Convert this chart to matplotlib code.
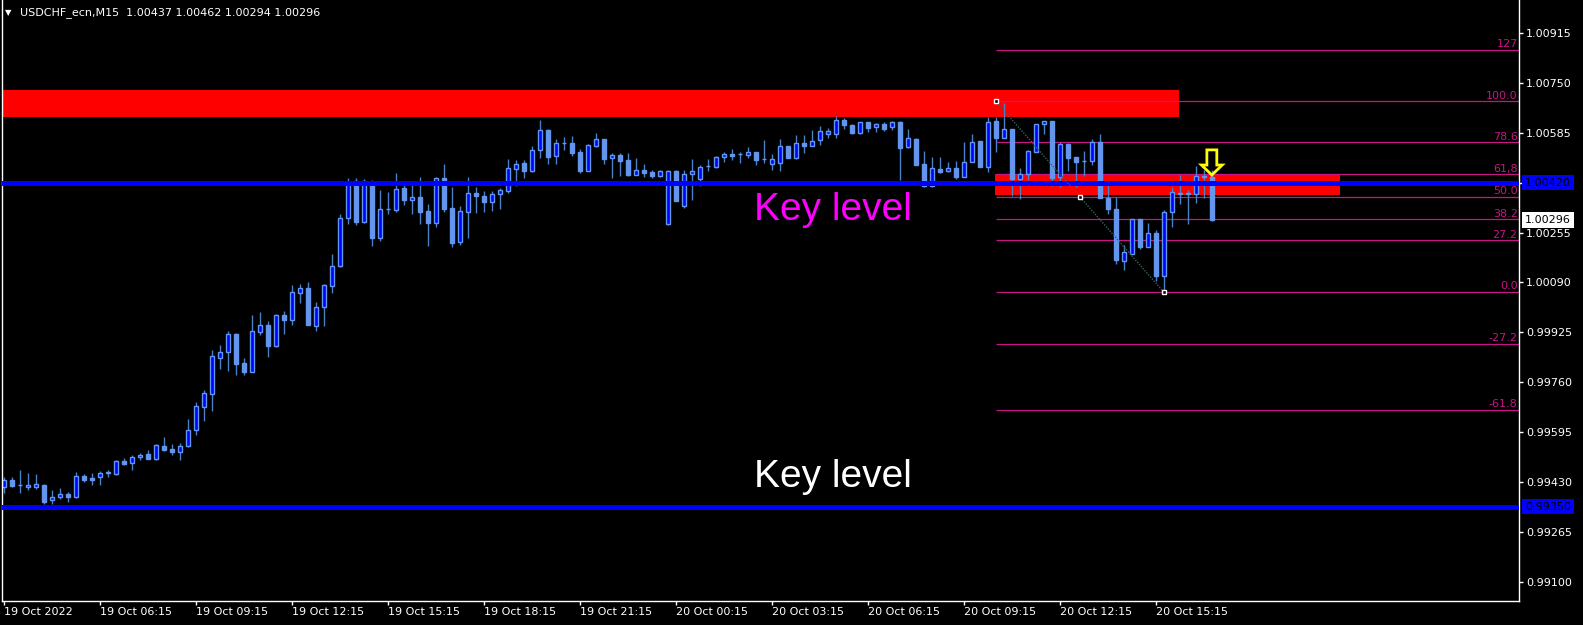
import numpy as np
import matplotlib
import matplotlib.pyplot as plt
from matplotlib.patches import Rectangle, Polygon

matplotlib.use("Agg")

# USDCHF M15 candles, bar 0 = 19 Oct 03:15
opens = [
    0.99413, 0.99438, 0.99421, 0.99416, 0.99416, 0.99421, 0.99371, 0.99381, 0.99392, 0.99381,
    0.99451, 0.99445, 0.99447, 0.99462, 0.99457, 0.99501, 0.99495, 0.99513, 0.99525, 0.99508,
    0.99550, 0.99540, 0.99529, 0.99549, 0.99602, 0.99680, 0.99723, 0.99842, 0.99859, 0.99920,
    0.99823, 0.99795, 0.99927, 0.99949, 0.99880, 0.99982, 0.99967, 1.00056, 1.00071, 0.99947,
    1.00010, 1.00079, 1.00145, 1.00302, 1.00425, 1.00291, 1.00419, 1.00238, 1.00332, 1.00330,
    1.00402, 1.00364, 1.00373, 1.00327, 1.00288, 1.00434, 1.00336, 1.00225, 1.00324, 1.00386,
    1.00376, 1.00357, 1.00381, 1.00393, 1.00466, 1.00485, 1.00459, 1.00529, 1.00594, 1.00509,
    1.00550, 1.00551, 1.00521, 1.00459, 1.00542, 1.00564, 1.00502, 1.00511, 1.00495, 1.00446,
    1.00462, 1.00455, 1.00443, 1.00284, 1.00458, 1.00344, 1.00447, 1.00433, 1.00474, 1.00473,
    1.00504, 1.00515, 1.00514, 1.00510, 1.00521, 1.00497, 1.00482, 1.00484, 1.00541, 1.00502,
    1.00551, 1.00542, 1.00560, 1.00582, 1.00582, 1.00626, 1.00610, 1.00585, 1.00619, 1.00603,
    1.00614, 1.00603, 1.00620, 1.00539, 1.00564, 1.00481, 1.00409, 1.00465, 1.00457, 1.00468,
    1.00439, 1.00489, 1.00557, 1.00473, 1.00623, 1.00568, 1.00597, 1.00431, 1.00448, 1.00522,
    1.00612, 1.00623, 1.00438, 1.00547, 1.00505, 1.00491, 1.00492, 1.00553, 1.00370, 1.00333,
    1.00162, 1.00185, 1.00299, 1.00208, 1.00254, 1.00113, 1.00324, 1.00383, 1.00384, 1.00383,
    1.00440, 1.00437,
]
highs = [
    0.99449, 0.99448, 0.99471, 0.99461, 0.99458, 0.99425, 0.99405, 0.99411, 0.99399, 0.99463,
    0.99457, 0.99461, 0.99468, 0.99471, 0.99503, 0.99511, 0.99520, 0.99527, 0.99537, 0.99557,
    0.99580, 0.99557, 0.99559, 0.99638, 0.99695, 0.99735, 0.99867, 0.99884, 0.99929, 0.99923,
    0.99839, 0.99983, 0.99992, 0.99962, 0.99986, 0.99995, 1.00081, 1.00085, 1.00092, 1.00024,
    1.00085, 1.00184, 1.00315, 1.00435, 1.00435, 1.00432, 1.00429, 1.00396, 1.00389, 1.00452,
    1.00413, 1.00413, 1.00438, 1.00349, 1.00437, 1.00481, 1.00405, 1.00342, 1.00438, 1.00405,
    1.00393, 1.00392, 1.00401, 1.00498, 1.00495, 1.00495, 1.00541, 1.00627, 1.00597, 1.00564,
    1.00571, 1.00574, 1.00531, 1.00546, 1.00584, 1.00564, 1.00518, 1.00518, 1.00518, 1.00501,
    1.00481, 1.00462, 1.00462, 1.00462, 1.00462, 1.00462, 1.00498, 1.00478, 1.00498, 1.00508,
    1.00521, 1.00531, 1.00522, 1.00537, 1.00521, 1.00560, 1.00514, 1.00564, 1.00542, 1.00577,
    1.00577, 1.00593, 1.00606, 1.00600, 1.00640, 1.00633, 1.00615, 1.00621, 1.00619, 1.00618,
    1.00620, 1.00623, 1.00623, 1.00596, 1.00567, 1.00524, 1.00505, 1.00505, 1.00488, 1.00491,
    1.00554, 1.00579, 1.00557, 1.00636, 1.00635, 1.00684, 1.00597, 1.00468, 1.00528, 1.00612,
    1.00622, 1.00623, 1.00553, 1.00552, 1.00505, 1.00524, 1.00564, 1.00581, 1.00412, 1.00371,
    1.00214, 1.00299, 1.00299, 1.00287, 1.00263, 1.00330, 1.00404, 1.00445, 1.00396, 1.00475,
    1.00462, 1.00462,
]
lows = [
    0.99396, 0.99413, 0.99396, 0.99403, 0.99407, 0.99358, 0.99358, 0.99375, 0.99366, 0.99379,
    0.99432, 0.99420, 0.99422, 0.99449, 0.99454, 0.99487, 0.99471, 0.99504, 0.99508, 0.99503,
    0.99535, 0.99520, 0.99504, 0.99548, 0.99587, 0.99634, 0.99667, 0.99804, 0.99799, 0.99785,
    0.99785, 0.99795, 0.99917, 0.99845, 0.99878, 0.99921, 0.99950, 1.00023, 0.99951, 0.99931,
    0.99947, 1.00056, 1.00140, 1.00283, 1.00281, 1.00287, 1.00211, 1.00228, 1.00317, 1.00324,
    1.00346, 1.00317, 1.00284, 1.00212, 1.00274, 1.00324, 1.00208, 1.00215, 1.00238, 1.00321,
    1.00324, 1.00327, 1.00333, 1.00387, 1.00409, 1.00435, 1.00455, 1.00502, 1.00482, 1.00482,
    1.00528, 1.00509, 1.00453, 1.00459, 1.00539, 1.00481, 1.00435, 1.00442, 1.00443, 1.00445,
    1.00438, 1.00436, 1.00439, 1.00280, 1.00359, 1.00336, 1.00363, 1.00409, 1.00458, 1.00469,
    1.00488, 1.00495, 1.00485, 1.00501, 1.00479, 1.00486, 1.00462, 1.00458, 1.00502, 1.00499,
    1.00518, 1.00542, 1.00543, 1.00566, 1.00568, 1.00597, 1.00582, 1.00580, 1.00587, 1.00588,
    1.00589, 1.00594, 1.00429, 1.00533, 1.00479, 1.00405, 1.00406, 1.00453, 1.00454, 1.00431,
    1.00439, 1.00487, 1.00473, 1.00456, 1.00522, 1.00567, 1.00376, 1.00365, 1.00429, 1.00520,
    1.00581, 1.00409, 1.00406, 1.00459, 1.00406, 1.00443, 1.00478, 1.00370, 1.00317, 1.00152,
    1.00131, 1.00184, 1.00202, 1.00208, 1.00096, 1.00058, 1.00272, 1.00350, 1.00284, 1.00354,
    1.00370, 1.00294,
]
closes = [
    0.99438, 0.99418, 0.99420, 0.99421, 0.99425, 0.99366, 0.99381, 0.99391, 0.99380, 0.99450,
    0.99436, 0.99439, 0.99461, 0.99463, 0.99500, 0.99492, 0.99514, 0.99520, 0.99508, 0.99553,
    0.99537, 0.99530, 0.99549, 0.99602, 0.99681, 0.99724, 0.99846, 0.99859, 0.99919, 0.99822,
    0.99795, 0.99929, 0.99949, 0.99881, 0.99982, 0.99967, 1.00059, 1.00071, 0.99951, 1.00008,
    1.00081, 1.00145, 1.00302, 1.00419, 1.00291, 1.00425, 1.00238, 1.00332, 1.00333, 1.00398,
    1.00364, 1.00372, 1.00323, 1.00288, 1.00434, 1.00333, 1.00221, 1.00325, 1.00385, 1.00377,
    1.00357, 1.00381, 1.00396, 1.00467, 1.00480, 1.00459, 1.00527, 1.00593, 1.00506, 1.00551,
    1.00551, 1.00519, 1.00458, 1.00543, 1.00564, 1.00498, 1.00510, 1.00491, 1.00445, 1.00461,
    1.00452, 1.00443, 1.00458, 1.00457, 1.00359, 1.00447, 1.00457, 1.00471, 1.00475, 1.00504,
    1.00513, 1.00509, 1.00515, 1.00520, 1.00496, 1.00498, 1.00497, 1.00540, 1.00502, 1.00550,
    1.00542, 1.00556, 1.00589, 1.00590, 1.00626, 1.00610, 1.00584, 1.00620, 1.00600, 1.00614,
    1.00597, 1.00619, 1.00535, 1.00566, 1.00479, 1.00409, 1.00467, 1.00455, 1.00467, 1.00438,
    1.00488, 1.00553, 1.00473, 1.00619, 1.00568, 1.00596, 1.00431, 1.00447, 1.00524, 1.00612,
    1.00622, 1.00436, 1.00547, 1.00502, 1.00489, 1.00492, 1.00553, 1.00370, 1.00332, 1.00164,
    1.00190, 1.00299, 1.00208, 1.00253, 1.00112, 1.00322, 1.00388, 1.00384, 1.00383, 1.00441,
    1.00441, 1.00296,
]

price_ticks = [1.00915, 1.00750, 1.00585, 1.00420, 1.00255, 1.00090, 0.99925,
               0.99760, 0.99595, 0.99430, 0.99265, 0.99100]
time_tick_bars = [0, 12, 24, 36, 48, 60, 72, 84, 96, 108, 120, 132, 144]
time_tick_labels = ["19 Oct 2022", "19 Oct 06:15", "19 Oct 09:15", "19 Oct 12:15",
                    "19 Oct 15:15", "19 Oct 18:15", "19 Oct 21:15", "20 Oct 00:15",
                    "20 Oct 03:15", "20 Oct 06:15", "20 Oct 09:15", "20 Oct 12:15",
                    "20 Oct 15:15"]

key_levels = [1.00420, 0.99350]
# supply zones: (first bar, last bar, low, high)
zones = [(-0.25, 146.9, 1.00636, 1.00725), (123.9, 167.0, 1.00378, 1.00448)]

fib_high, fib_low = 1.00688, 1.00058
fib_high_bar, fib_low_bar = 124, 145
fib_levels = [1.27, 1.0, 0.786, 0.618, 0.5, 0.382, 0.272, 0.0, -0.272, -0.618]
fib_labels = ["127", "100.0", "78.6", "61,8", "50.0", "38.2", "27.2", "0.0", "-27.2", "-61.8"]

arrow_bar, arrow_price = 151, 1.00445
last_price = 1.00296
title = "USDCHF_ecn,M15  1.00437 1.00462 1.00294 1.00296"

W, H = 1583, 625
fig = plt.figure(figsize=(W / 100, H / 100), dpi=100, facecolor="black")
ax = fig.add_axes([2 / W, 24 / H, 1517 / W, 601 / H])
ax.set_facecolor("black")
xmin, xmax = -0.25, 189.4
ax.set_xlim(xmin, xmax)
ax.set_ylim(0.99038, 1.01023)

# zones
for x0, x1, lo, hi in zones:
    ax.add_patch(Rectangle((x0, lo), x1 - x0, hi - lo, color="#ff0000", lw=0, zorder=1))

# fibonacci
fib_color = "#c71585"
for lv, lab in zip(fib_levels, fib_labels):
    p = fib_low + lv * (fib_high - fib_low)
    ax.hlines(p, fib_high_bar, xmax, color=fib_color, lw=0.9, zorder=1.5)
    ax.annotate(lab, (xmax, p), xytext=(-1, 0.5), textcoords="offset points",
                ha="right", va="bottom", color=fib_color, fontsize=8, zorder=1.6)

# candles
o, h, l, c = map(np.array, (opens, highs, lows, closes))
x = np.arange(len(o))
up = c >= o
bottom = np.minimum(o, c)
height = np.maximum(np.abs(c - o), 0.000005)
ax.vlines(x, l, h, color="#4a80c8", lw=1, zorder=2)
ax.bar(x[up], height[up], bottom=bottom[up], width=0.5, color="#0000ff",
       edgecolor="#6495ed", lw=1, zorder=2.2)
ax.bar(x[~up], height[~up], bottom=bottom[~up], width=0.5, color="#6495ed",
       edgecolor="#6495ed", lw=1, zorder=2.2)

# key level lines
for lvl in key_levels:
    ax.axhline(lvl, color="#0000ff", lw=3.6, zorder=3)
    ax.annotate(f"{lvl:.5f}", xy=(1, lvl), xycoords=("axes fraction", "data"),
                xytext=(4.5, 0), textcoords="offset points", ha="left", va="center",
                fontsize=8, color="black", annotation_clip=False, zorder=10,
                bbox=dict(boxstyle="square,pad=0.25", fc="#0000ff", ec="none"))

ax.annotate(f"{last_price:.5f}", xy=(1, last_price), xycoords=("axes fraction", "data"),
            xytext=(4.5, 0), textcoords="offset points", ha="left", va="center",
            fontsize=8, color="black", annotation_clip=False, zorder=10,
            bbox=dict(boxstyle="square,pad=0.25", fc="white", ec="none"))

# fib trend line
mid_bar = (fib_high_bar + fib_low_bar) / 2
ax.plot([fib_high_bar, fib_low_bar], [fib_high, fib_low], ls=(0, (1, 1)),
        color="#3b5f5f", lw=1, zorder=3.5)
ax.plot([fib_high_bar, mid_bar, fib_low_bar], [fib_high, (fib_high + fib_low) / 2, fib_low],
        "s", ms=3.5, mfc="black", mec="white", mew=1, zorder=3.6)

# sell arrow
head_w, shaft_w = 1.3, 0.62
head_h, total_h = 0.00033, 0.00083
arrow = Polygon([
    (arrow_bar, arrow_price),
    (arrow_bar - head_w, arrow_price + head_h),
    (arrow_bar - shaft_w, arrow_price + head_h),
    (arrow_bar - shaft_w, arrow_price + total_h),
    (arrow_bar + shaft_w, arrow_price + total_h),
    (arrow_bar + shaft_w, arrow_price + head_h),
    (arrow_bar + head_w, arrow_price + head_h),
], closed=True, fill=False, ec="#ffff00", lw=2, zorder=4)
ax.add_patch(arrow)

# labels
ax.text(93.75, 1.00297, "Key level", color="#ff00ff", fontsize=28,
        family="Liberation Sans", va="baseline", ha="left", zorder=5)
ax.text(93.75, 0.99416, "Key level", color="white", fontsize=28,
        family="Liberation Sans", va="baseline", ha="left", zorder=5)

# axes styling
for side in ("left", "bottom", "right"):
    ax.spines[side].set_color("white")
    ax.spines[side].set_linewidth(1)
ax.spines["top"].set_visible(False)

ax.yaxis.tick_right()
ax.set_yticks(price_ticks)
ax.set_yticklabels([f"{p:.5f}" for p in price_ticks])
ax.set_xticks(time_tick_bars)
ax.set_xticklabels(time_tick_labels, ha="left")
ax.tick_params(colors="white", labelsize=8, length=3, width=1, direction="out", pad=2)
ax.tick_params(axis="x", pad=1)

fig.text(5 / W, 1 - 12.5 / H, "\u25bc", color="white", fontsize=6, va="center")
fig.text(20 / W, 1 - 12.5 / H, title, color="white", fontsize=8, va="center")

fig.savefig("out.png", dpi=100, facecolor="black")
